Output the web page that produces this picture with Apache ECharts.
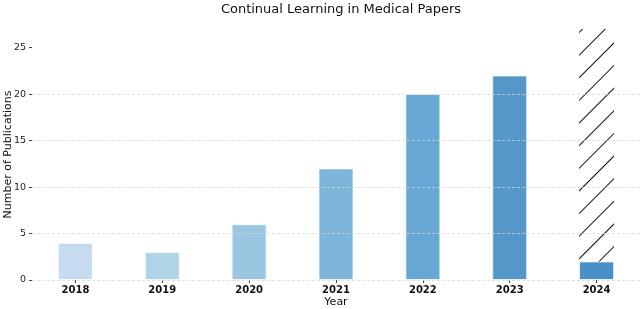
<!DOCTYPE html>
<html>
<head>
<meta charset="utf-8">
<script src="https://cdn.jsdelivr.net/npm/echarts@6/dist/echarts.min.js"></script>
<style>html,body{margin:0;padding:0;background:#fff}#c{width:640px;height:309px}</style>
</head>
<body>
<div id="c"></div>
<script>
const years = ['2018', '2019', '2020', '2021', '2022', '2023', '2024'];
const publications = [4, 3, 6, 12, 20, 22, 2];
const projectedExtra = [null, null, null, null, null, null, 25];
const barColors = ['#c6dcee', '#b0d3e7', '#9ac6e2', '#7db4da', '#66a7d4', '#5597c9', '#4a90c8'];
const yTicks = [0, 5, 10, 15, 20, 25];

const chart = echarts.init(document.getElementById('c'), null, {renderer: 'canvas'});
const font = 'DejaVu Sans';
chart.setOption({
  animation: false,
  backgroundColor: '#fff',
  title: {
    text: 'Continual Learning in Medical Papers',
    left: 336, top: -2, textAlign: 'center',
    textStyle: {fontFamily: font, fontSize: 13, fontWeight: 'normal', color: '#111'}
  },
  grid: {left: 32, right: 0, top: 29, bottom: 29, containLabel: false, outerBoundsMode: 'none'},
  xAxis: {
    type: 'category',
    data: years,
    name: 'Year', nameLocation: 'middle', nameGap: 17, nameMoveOverlap: false,
    nameTextStyle: {fontFamily: font, fontSize: 11, color: '#111'},
    axisLine: {show: false},
    axisTick: {show: true, alignWithLabel: true, length: 3, lineStyle: {color: '#444'}},
    axisLabel: {fontFamily: font, fontSize: 10, fontWeight: 'bold', color: '#111', margin: 5}
  },
  yAxis: {
    type: 'value', min: 0, max: 27, interval: 5, z: 5,
    name: 'Number of Publications', nameLocation: 'middle', nameGap: 18, nameRotate: 90,
    nameMoveOverlap: false,
    nameTextStyle: {fontFamily: font, fontSize: 11, color: '#111'},
    axisLine: {show: false},
    axisTick: {show: true, length: 3, customValues: yTicks, lineStyle: {color: '#444'}},
    axisLabel: {fontFamily: font, fontSize: 9.5, color: '#222', margin: 6, customValues: yTicks},
    splitLine: {show: true, showMaxLine: false, lineStyle: {color: 'rgba(215,215,215,0.75)', type: [3, 2], width: 1}}
  },
  series: [
    {
      type: 'bar', stack: 'a', barWidth: 35,
      data: publications.map((v, i) => ({value: v, itemStyle: {color: barColors[i]}})),
      itemStyle: {borderColor: 'rgba(255,255,255,0.7)', borderWidth: 1}
    },
    {
      type: 'bar', stack: 'a', barWidth: 35,
      data: projectedExtra,
      itemStyle: {
        color: 'rgba(0,0,0,0)',
        decal: {
          symbol: 'rect', color: '#111', backgroundColor: 'rgba(0,0,0,0)',
          dashArrayX: [1, 0], dashArrayY: [0.9, 14.8], rotation: -Math.PI / 4
        }
      }
    }
  ]
});
</script>
</body>
</html>
